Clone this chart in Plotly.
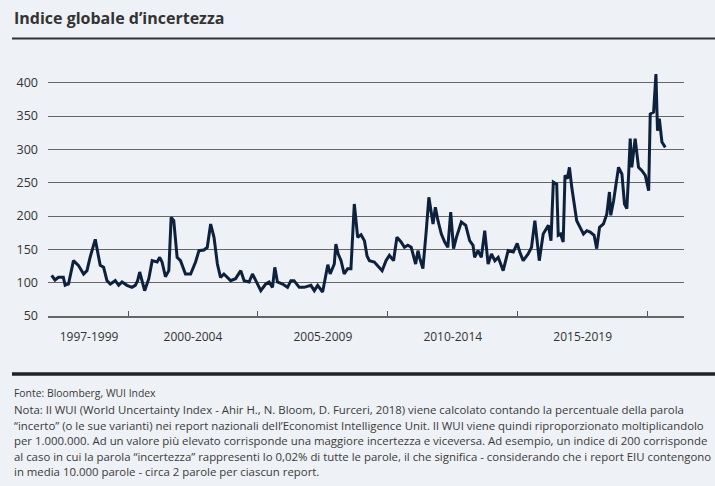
import plotly.graph_objects as go

# ---- data ----
years = [
    1997.06, 1997.19, 1997.32, 1997.51, 1997.58, 1997.71, 1997.90, 1998.09, 1998.29, 1998.42,
    1998.54, 1998.74, 1998.87, 1998.93, 1999.06, 1999.19, 1999.32, 1999.51, 1999.64, 1999.77,
    1999.96, 2000.15, 2000.28, 2000.37, 2000.45, 2000.54, 2000.64, 2000.80, 2000.93, 2001.12,
    2001.22, 2001.31, 2001.44, 2001.57, 2001.66, 2001.76, 2001.89, 2002.02, 2002.21, 2002.41,
    2002.60, 2002.73, 2002.92, 2003.05, 2003.18, 2003.31, 2003.44, 2003.56, 2003.69, 2003.95,
    2004.14, 2004.34, 2004.47, 2004.66, 2004.79, 2004.92, 2005.11, 2005.30, 2005.43, 2005.56,
    2005.65, 2005.75, 2005.95, 2006.14, 2006.27, 2006.39, 2006.59, 2006.78, 2007.04, 2007.17,
    2007.30, 2007.49, 2007.62, 2007.69, 2007.78, 2007.94, 2008.00, 2008.09, 2008.20, 2008.32,
    2008.45, 2008.58, 2008.71, 2008.84, 2008.97,
    2009.10, 2009.20, 2009.29, 2009.48, 2009.61, 2009.78, 2009.93, 2010.06, 2010.22, 2010.35,
    2010.51, 2010.64, 2010.77, 2010.90, 2011.07, 2011.16, 2011.22, 2011.35, 2011.48, 2011.58,
    2011.74, 2011.83, 2011.93, 2012.06, 2012.19, 2012.31, 2012.42, 2012.53, 2012.64, 2012.83,
    2013.00, 2013.15, 2013.28, 2013.34, 2013.47, 2013.60, 2013.73, 2013.86, 2013.99, 2014.12,
    2014.25, 2014.44, 2014.63, 2014.83, 2014.98, 2015.08, 2015.21, 2015.40, 2015.53, 2015.66,
    2015.83, 2015.98, 2016.18, 2016.28, 2016.37, 2016.50, 2016.56, 2016.65, 2016.75, 2016.82,
    2016.91, 2016.99, 2017.08, 2017.17, 2017.27, 2017.40, 2017.53, 2017.66, 2017.79, 2017.94,
    2018.04, 2018.15, 2018.30, 2018.43, 2018.53, 2018.58, 2018.69, 2018.88, 2019.01, 2019.11,
    2019.20, 2019.27, 2019.33, 2019.39, 2019.52, 2019.65, 2019.78, 2019.91, 2020.04, 2020.10,
    2020.23, 2020.32, 2020.38, 2020.45, 2020.55, 2020.68,
]
wui = [
    111, 104, 108, 108, 96, 98, 133, 126, 113, 118,
    138, 165, 138, 126, 123, 103, 98, 103, 96, 101,
    96, 93, 96, 103, 116, 101, 88, 106, 133, 131,
    138, 131, 109, 118, 198, 193, 138, 133, 113, 113,
    131, 148, 149, 153, 188, 168, 128, 108, 113, 103,
    106, 118, 103, 101, 113, 103, 88, 98, 101, 93,
    123, 101, 98, 93, 103, 103, 93, 93, 96, 88,
    96, 86, 113, 127, 113, 128, 158, 143, 133, 113,
    121, 121, 218, 168, 172,
    163, 140, 133, 131, 126, 118, 133, 141, 133, 168,
    161, 153, 156, 153, 128, 148, 138, 121, 178, 228,
    188, 213, 193, 173, 161, 153, 206, 151, 168, 191,
    186, 163, 156, 138, 148, 138, 178, 128, 143, 133,
    138, 118, 148, 146, 159, 146, 133, 143, 153, 193,
    133, 173, 186, 163, 251, 248, 171, 173, 161, 261,
    256, 273, 243, 218, 193, 183, 173, 178, 176, 171,
    151, 183, 188, 203, 236, 201, 223, 273, 263, 218,
    211, 263, 316, 273, 316, 273, 268, 261, 238, 353,
    356, 413, 328, 346, 311, 303,
]
period_pos = [1998.5, 2002.5, 2007.5, 2012.5, 2017.5]
period_labels = ["1997-1999", "2000-2004", "2005-2009", "2010-2014", "2015-2019"]
boundary_ticks = [2000, 2005, 2010, 2015, 2020]
y_ticks = [50, 100, 150, 200, 250, 300, 350, 400]

title_text = "Indice globale d’incertezza"
source_text = "Fonte: Bloomberg, WUI Index"
note_lines = [
    "Nota: Il WUI (World Uncertainty Index - Ahir H., N. Bloom, D. Furceri, 2018) viene calcolato contando la percentuale della parola",
    "“incerto” (o le sue varianti) nei report nazionali dell’Economist Intelligence Unit. Il WUI viene quindi riproporzionato moltiplicandolo",
    "per 1.000.000. Ad un valore più elevato corrisponde una maggiore incertezza e viceversa. Ad esempio, un indice di 200 corrisponde",
    "al caso in cui la parola “incertezza” rappresenti lo 0,02% di tutte le parole, il che significa - considerando che i report EIU contengono",
    "in media 10.000 parole - circa 2 parole per ciascun report.",
]

# ---- layout geometry (pixels) ----
W, H = 715, 486
L, R = 48, 31
T, B = 62, 170
PW = W - L - R
PH = H - T - B

def px_x(p):
    return (p - L) / PW

def px_y(p):
    return (H - B - p) / PH

BG = "#eef1f5"
FONT = "Open Sans, Noto Sans, sans-serif"

fig = go.Figure()
fig.add_trace(go.Scatter(
    x=years, y=wui, mode="lines",
    line=dict(color="#0e213c", width=3),
    hoverinfo="x+y", showlegend=False,
))

fig.update_layout(
    width=W, height=H,
    margin=dict(l=L, r=R, t=T, b=B),
    paper_bgcolor=BG, plot_bgcolor=BG,
    font=dict(family=FONT, color="#333333"),
    xaxis=dict(
        range=[1996.92, 2021.4],
        tickmode="array", tickvals=period_pos, ticktext=period_labels,
        ticks="", showgrid=False, zeroline=False,
        showline=True, linecolor="#666666", linewidth=1.5,
        tickfont=dict(size=12, color="#333333"),
        ticklabelstandoff=9,
        minor=dict(tickmode="array", tickvals=boundary_ticks, ticks="inside",
                   ticklen=5, tickcolor="#555555", tickwidth=1.2, showgrid=False),
    ),
    yaxis=dict(
        range=[50, 50 + PH * 1.5],
        tickmode="array", tickvals=y_ticks,
        showgrid=True, gridcolor="#666666", gridwidth=1.4,
        zeroline=False, showline=False, ticks="",
        tickfont=dict(size=12.5, color="#333333"),
        ticklabelstandoff=9,
    ),
    shapes=[
        dict(type="line", xref="paper", yref="paper",
             x0=px_x(12), x1=px_x(W + 5), y0=px_y(38.5), y1=px_y(38.5),
             line=dict(color="#333333", width=2)),
        dict(type="line", xref="paper", yref="paper",
             x0=px_x(12), x1=px_x(W + 5), y0=px_y(374), y1=px_y(374),
             line=dict(color="#222222", width=3.5)),
    ],
)

annotations = [
    dict(text="<b>" + title_text + "</b>", x=px_x(12), y=px_y(18),
         font=dict(size=16, color="#333333")),
    dict(text=source_text, x=px_x(12), y=px_y(393),
         font=dict(size=10.4, color="#3a3a3a")),
]
line_y = [409.5, 425, 440.5, 456, 471.5]
for txt, yy in zip(note_lines, line_y):
    annotations.append(dict(text=txt, x=px_x(12), y=px_y(yy),
                            font=dict(size=11.4, color="#3a3a3a")))
for a in annotations:
    a.update(xref="paper", yref="paper", xanchor="left", yanchor="middle",
             showarrow=False)
fig.update_layout(annotations=annotations)

fig.write_html("out.html")
